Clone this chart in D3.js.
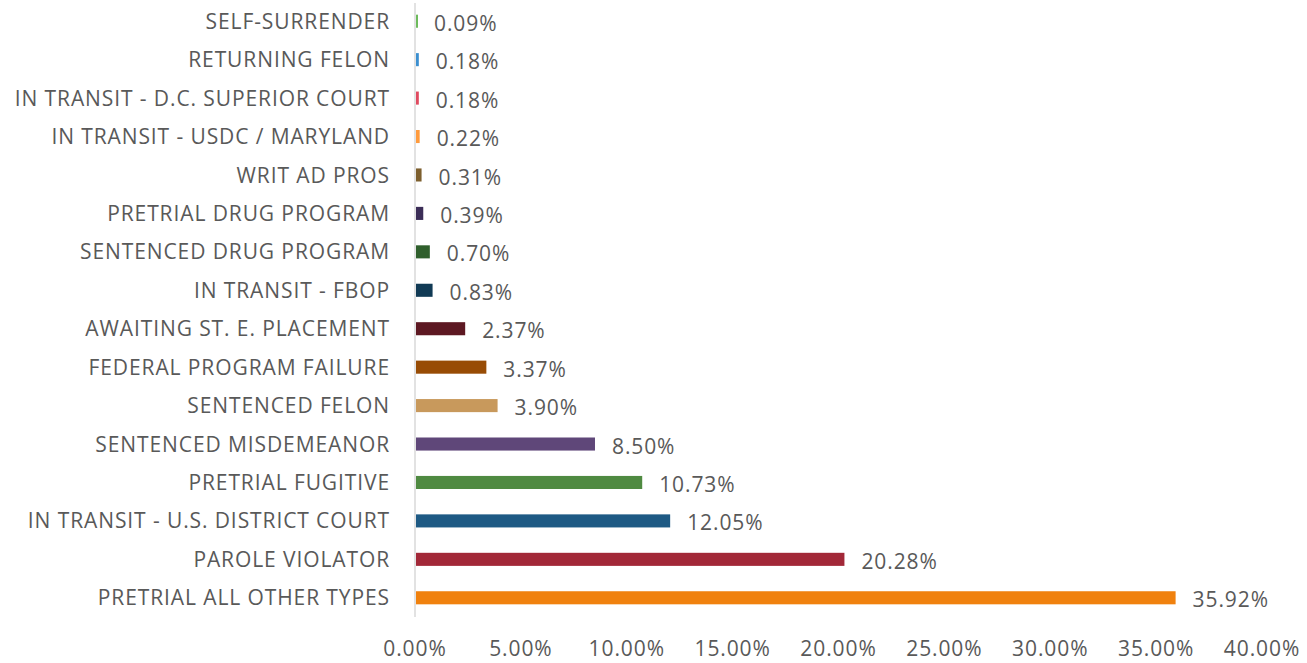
<!DOCTYPE html>
<meta charset="utf-8">
<title>Inmate population by status</title>
<script src="https://d3js.org/d3.v7.min.js"></script>
<style>
body { margin: 0; background: #fff; }
text { font-family: "Open Sans", Lato, sans-serif; fill: #595959; letter-spacing: 0.9px; }
</style>
<div id="chart"></div>
<script>
// categories listed top to bottom, as in the picture
const categories = [
  "SELF-SURRENDER", "RETURNING FELON", "IN TRANSIT - D.C. SUPERIOR COURT",
  "IN TRANSIT - USDC / MARYLAND", "WRIT AD PROS", "PRETRIAL DRUG PROGRAM",
  "SENTENCED DRUG PROGRAM", "IN TRANSIT - FBOP", "AWAITING ST. E. PLACEMENT",
  "FEDERAL PROGRAM FAILURE", "SENTENCED FELON", "SENTENCED MISDEMEANOR",
  "PRETRIAL FUGITIVE", "IN TRANSIT - U.S. DISTRICT COURT", "PAROLE VIOLATOR",
  "PRETRIAL ALL OTHER TYPES"
];
const values = [0.09, 0.18, 0.18, 0.22, 0.31, 0.39, 0.70, 0.83, 2.37, 3.37, 3.90, 8.50, 10.73, 12.05, 20.28, 35.92];
const colors = [
  "#6dbb5c", "#3b8fd0", "#e04a5f", "#ff9b3d", "#7d5f2e", "#3b2d57",
  "#2f5f2c", "#113a55", "#5d1822", "#984c05", "#c8995c", "#5f4779",
  "#4f8a41", "#1e5a84", "#a22838", "#f0810e"
];
const xTicks = [0, 5, 10, 15, 20, 25, 30, 35, 40];

const width = 1307, height = 663;
const left = 415, right = 1262;

const svg = d3.select("#chart").append("svg")
    .attr("width", width)
    .attr("height", height);

const x = d3.scaleLinear().domain([0, 40]).range([left, right]);
const y = d3.scaleBand().domain(categories).range([2, 617]).paddingInner(0.66).paddingOuter(0.33);

// vertical axis line
svg.append("line")
    .attr("x1", left).attr("x2", left)
    .attr("y1", 3).attr("y2", 617)
    .attr("stroke", "#d9d9d9")
    .attr("stroke-width", 1.5);

svg.append("g").selectAll("rect")
    .data(values)
    .join("rect")
    .attr("x", left + 1)
    .attr("y", (d, i) => y(categories[i]))
    .attr("width", d => Math.max(x(d) - left - 1, 2))
    .attr("height", y.bandwidth())
    .attr("fill", (d, i) => colors[i]);

// category labels
svg.append("g").selectAll("text")
    .data(categories)
    .join("text")
    .attr("x", 390)
    .attr("y", d => y(d) + y.bandwidth() / 2)
    .attr("dy", "0.36em")
    .attr("text-anchor", "end")
    .style("font-size", "21px")
    .text(d => d);

// value labels
svg.append("g").selectAll("text")
    .data(values)
    .join("text")
    .attr("x", d => Math.max(x(d), left + 2) + 17)
    .attr("y", (d, i) => y(categories[i]) + y.bandwidth() / 2 + 2)
    .attr("dy", "0.36em")
    .style("font-size", "21px")
    .text(d => d.toFixed(2) + "%");

// x tick labels
svg.append("g").selectAll("text")
    .data(xTicks)
    .join("text")
    .attr("x", d => x(d))
    .attr("y", 648)
    .attr("dy", "0.36em")
    .attr("text-anchor", "middle")
    .style("font-size", "21px")
    .text(d => d.toFixed(2) + "%");
</script>
